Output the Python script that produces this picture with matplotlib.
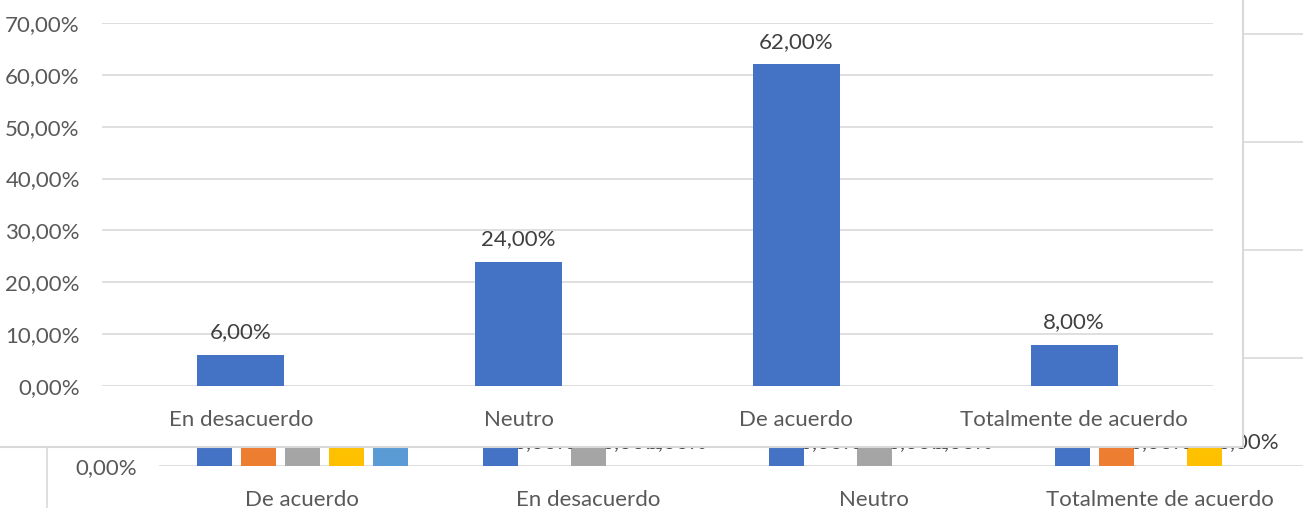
import matplotlib
matplotlib.use("Agg")
import matplotlib.pyplot as plt
from matplotlib.patches import Rectangle
from matplotlib.lines import Line2D
import numpy as np

plt.rcParams['font.family'] = ['Lato', 'DejaVu Sans']

W, H = 1307, 508

# front chart
categories = ['En desacuerdo', 'Neutro', 'De acuerdo', 'Totalmente de acuerdo']
values = [0.06, 0.24, 0.62, 0.08]

# chart behind (only partly visible)
back_categories = ['De acuerdo', 'En desacuerdo', 'Neutro', 'Totalmente de acuerdo']
back_series = {
    's1': [0.30, 0.05, 0.20, 0.10],
    's2': [0.25, 0.00, 0.00, 0.05],
    's3': [0.35, 0.10, 0.25, 0.00],
    's4': [0.20, 0.00, 0.00, 0.05],
    's5': [0.15, 0.00, 0.00, 0.00],
}
back_colors = ['#4472C4', '#ED7D31', '#A5A5A5', '#FFC000', '#5B9BD5']

GRID = '#D9D9D9'
TICK = '#595959'
LABEL = '#404040'
FS = 16


def fx(x):
    return x / W


def fy(y):
    return 1 - y / H


def pct(v):
    return f"{v * 100:.2f}%".replace('.', ',')


fig = plt.figure(figsize=(W / 100, H / 100), dpi=100)

# ---- background chart ----
bx0, bx1, by0 = 159, 1303, 466
bax = fig.add_axes([fx(bx0), fy(by0), fx(bx1 - bx0), 1 - fy(by0)], zorder=0)
bax.set_xlim(-0.5, 3.5)
bax.set_ylim(0, 0.4315)
bax.set_facecolor('none')
for s in bax.spines.values():
    s.set_visible(False)
bax.set_yticks([0, 0.1, 0.2, 0.3, 0.4])
# only the 0 label sticks out below the front panel
bax.set_yticklabels([pct(0), '', '', '', ''])
bax.yaxis.grid(True, color=GRID, lw=1.2)
bax.set_axisbelow(True)
bax.tick_params(length=0, labelsize=FS, labelcolor=TICK, pad=16)
bax.tick_params(axis='x', pad=17)
bax.set_xticks(range(4))
bax.set_xticklabels(back_categories)

x = np.arange(4)
step = 44 / 286
bw = 35 / 286
for i, (name, vals) in enumerate(back_series.items()):
    off = (i - 2) * step
    bax.bar(x + off, vals, width=bw, color=back_colors[i], zorder=2)
    for xi, v in zip(x, vals):
        if v == 0:  # labels of taller bars are hidden by the front panel anyway
            bax.annotate(pct(v), (xi + off, v), xytext=(0, 13), textcoords='offset points',
                         ha='center', va='baseline', fontsize=FS, color=LABEL)

fig.add_artist(Line2D([fx(47), fx(47)], [fy(447), 0], color=GRID, lw=1.2, zorder=0))

# ---- white panel of the front chart ----
panel = Rectangle((fx(-5), fy(447)), fx(1243 + 5), 1.1, transform=fig.transFigure,
                  facecolor='white', edgecolor=GRID, lw=1.5, zorder=1, clip_on=False)
fig.add_artist(panel)

# ---- front chart ----
ax = fig.add_axes([fx(102), fy(386), fx(1213 - 102), fy(23) - fy(386)], zorder=2)
ax.set_facecolor('none')
ax.set_xlim(-0.5, 3.5)
ax.set_ylim(0, 0.7)
for s in ax.spines.values():
    s.set_visible(False)
yt = np.arange(0, 0.71, 0.1)
ax.set_yticks(yt)
ax.set_yticklabels([pct(t) for t in yt])
ax.yaxis.grid(True, color=GRID, lw=1.2)
ax.set_axisbelow(True)
ax.tick_params(length=0, labelsize=FS, labelcolor=TICK, pad=16)
ax.tick_params(axis='x', pad=17)
ax.set_xticks(range(4))
ax.set_xticklabels(categories)

ax.bar(range(4), values, width=87 / 278, color='#4472C4', zorder=2)
for i, v in enumerate(values):
    ax.annotate(pct(v), (i, v), xytext=(0, 12), textcoords='offset points',
                ha='center', va='baseline', fontsize=FS, color=LABEL)

fig.savefig('out.png', dpi=100)
